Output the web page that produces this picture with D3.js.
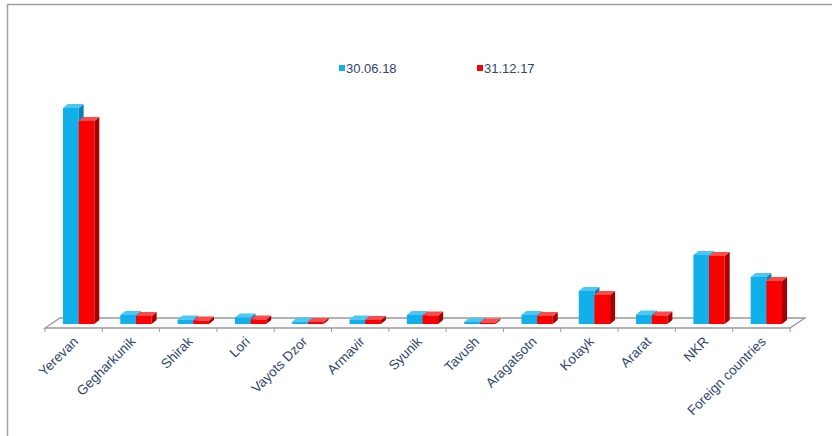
<!DOCTYPE html>
<html>
<head>
<meta charset="utf-8">
<script src="https://cdn.jsdelivr.net/npm/d3@7"></script>
<style>
  html, body { margin: 0; padding: 0; background: #ffffff; }
  svg { display: block; }
  text { font-family: "Liberation Sans", Arial, sans-serif; }
</style>
</head>
<body>
<svg id="chart" width="832" height="436"></svg>
<script>
const categories = ["Yerevan", "Gegharkunik", "Shirak", "Lori", "Vayots Dzor", "Armavir", "Syunik", "Tavush", "Aragatsotn", "Kotayk", "Ararat", "NKR", "Foreign countries"];
const seriesNames = ["30.06.18", "31.12.17"];
const values_300618 = [216, 9, 4.5, 6.5, 2.5, 4.5, 9, 2, 9, 33, 9.5, 69, 47];
const values_311217 = [203, 8, 3.5, 4.5, 2, 4, 8.5, 1.5, 8, 29, 8.5, 68, 43];
const seriesColors = [
  { front: "#12b0ea", side: "#0a7fb0", top: "#4cc6f2" },
  { front: "#fa0000", side: "#a80000", top: "#ff4a4a" }
];

const svg = d3.select("#chart");

// frame
svg.append("rect").attr("x", 7.5).attr("y", 4.5).attr("width", 840).attr("height", 450)
  .attr("fill", "#fff").attr("stroke", "#a0a0a0").attr("stroke-width", 1.5);

const floorFront = 328, depthX = 15, depthY = -10;
const x0 = d3.scaleBand().domain(categories).range([45, 790]).paddingInner(0).paddingOuter(0);
const groupPad = 13;
const x1 = d3.scaleBand().domain(seriesNames).range([0, x0.bandwidth() - 2 * groupPad]).padding(0);
const baseY = 324, barOx = 5;
const y = d3.scaleLinear().domain([0, 216]).range([baseY, 108]);

// floor
const fl = [[45, floorFront], [790, floorFront], [790 + depthX, floorFront + depthY], [45 + depthX, floorFront + depthY]];
svg.append("path").attr("d", d3.line()(fl) + "Z")
  .attr("fill", "#fafafa").attr("stroke", "#9a9a9a").attr("stroke-width", 1.3);

// ticks
const tickPos = categories.map(c => x0(c)).concat([x0.range()[1]]);
svg.selectAll(".tick").data(tickPos).enter().append("line")
  .attr("x1", d => d).attr("x2", d => d)
  .attr("y1", floorFront).attr("y2", floorFront + 4)
  .attr("stroke", "#9a9a9a").attr("stroke-width", 1);

// bars
const bw = x1.bandwidth();
const bdx = 5, bdy = -4;
const data = [];
categories.forEach((c, i) => {
  data.push({ c, s: 0, v: values_300618[i] });
  data.push({ c, s: 1, v: values_311217[i] });
});
data.sort((a, b) => a.s - b.s);
const g = svg.append("g");
data.forEach(d => {
  const xl = x0(d.c) + groupPad + barOx + x1(seriesNames[d.s]);
  const xr = xl + bw;
  const yt = y(d.v), yb = baseY;
  const col = seriesColors[d.s];
  g.append("path").attr("d", d3.line()([[xr, yb], [xr + bdx, yb + bdy], [xr + bdx, yt + bdy], [xr, yt]]) + "Z")
    .attr("fill", col.side);
  g.append("path").attr("d", d3.line()([[xl, yt], [xl + bdx, yt + bdy], [xr + bdx, yt + bdy], [xr, yt]]) + "Z")
    .attr("fill", col.top);
  g.append("rect").attr("x", xl).attr("y", yt).attr("width", bw).attr("height", yb - yt)
    .attr("fill", col.front);
});

// category labels
svg.selectAll(".lbl").data(categories).enter().append("text")
  .attr("transform", d => `translate(${x0(d) + x0.bandwidth() / 2 + 2},${floorFront + 11}) rotate(-45)`)
  .attr("text-anchor", "end")
  .attr("dy", "0.35em")
  .attr("font-size", 13.5)
  .attr("fill", "#2f4670")
  .text(d => d);

// legend
const legX = [339, 477];
seriesNames.forEach((s, i) => {
  svg.append("rect").attr("x", legX[i]).attr("y", 65).attr("width", 6).attr("height", 6)
    .attr("fill", seriesColors[i].front);
  svg.append("text").attr("x", legX[i] + 7).attr("y", 72.5)
    .attr("font-size", 13).attr("fill", "#2f4670").text(s);
});
</script>
</body>
</html>
